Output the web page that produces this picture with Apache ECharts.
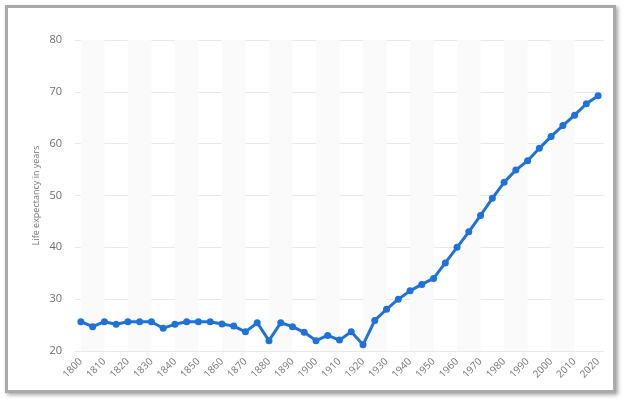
<!DOCTYPE html>
<html>
<head>
<meta charset="utf-8">
<script src="https://cdn.jsdelivr.net/npm/echarts@6/dist/echarts.min.js"></script>
<style>
html,body{margin:0;padding:0;background:#fff;width:625px;height:399px;overflow:hidden;}
#frame{position:absolute;left:5px;top:5px;width:605px;height:382px;border:3px solid #aaaaaa;box-shadow:2px 2px 4px rgba(0,0,0,0.35);background:#fff;}
#chart{position:absolute;left:0;top:0;width:625px;height:399px;}
</style>
</head>
<body>
<div id="frame"></div>
<div id="chart"></div>
<script>
const years = ['1800','1805','1810','1815','1820','1825','1830','1835','1840','1845','1850','1855','1860','1865','1870','1875','1880','1885','1890','1895','1900','1905','1910','1915','1920','1925','1930','1935','1940','1945','1950','1955','1960','1965','1970','1975','1980','1985','1990','1995','2000','2005','2010','2015','2020'];
const lifeExpectancy = [25.65,24.7,25.65,25.15,25.65,25.65,25.65,24.4,25.15,25.65,25.65,25.65,25.2,24.8,23.7,25.45,22.0,25.45,24.7,23.6,22.0,23.0,22.1,23.7,21.2,25.9,28.05,30.0,31.6,32.85,34.0,37.0,40.0,43.0,46.15,49.45,52.55,54.9,56.7,59.1,61.4,63.5,65.5,67.7,69.25];
const yTicks = [20,30,40,50,60,70,80];
const bandPairs = [['1800','1810'],['1820','1830'],['1840','1850'],['1860','1870'],['1880','1890'],['1900','1910'],['1920','1930'],['1940','1950'],['1960','1970'],['1980','1990'],['2000','2010']];

const chart = echarts.init(document.getElementById('chart'));
chart.setOption({
  backgroundColor: 'transparent',
  animation: false,
  grid: {left: 75, right: 21, top: 40, bottom: 48},
  xAxis: {
    type: 'category',
    data: years,
    boundaryGap: true,
    axisLine: {show: false},
    axisTick: {show: false},
    axisLabel: {interval: 1, rotate: 45, color: '#777', fontSize: 10, margin: 9, fontFamily: 'Open Sans'},
    splitLine: {show: false}
  },
  yAxis: {
    type: 'value',
    min: yTicks[0], max: yTicks[yTicks.length-1], interval: 10,
    name: 'Life expectancy in years',
    nameLocation: 'middle',
    nameGap: 34,
    nameMoveOverlap: false,
    nameTextStyle: {color: '#777', fontSize: 9, fontFamily: 'Open Sans'},
    axisLine: {show: false},
    axisTick: {show: false},
    axisLabel: {color: '#6e6e6e', fontSize: 11, margin: 13, fontFamily: 'Open Sans'},
    splitLine: {lineStyle: {color: '#e8e8e8', width: 1}}
  },
  series: [{
    type: 'line',
    data: lifeExpectancy,
    symbol: 'circle',
    symbolSize: 7,
    lineStyle: {color: '#1f72d8', width: 3},
    itemStyle: {color: '#1f72d8'},
    markArea: {
      silent: true,
      itemStyle: {color: '#fafafa'},
      data: bandPairs.map(p => [{xAxis: p[0]}, {xAxis: p[1]}])
    },
    z: 3
  }]
});
</script>
</body>
</html>
